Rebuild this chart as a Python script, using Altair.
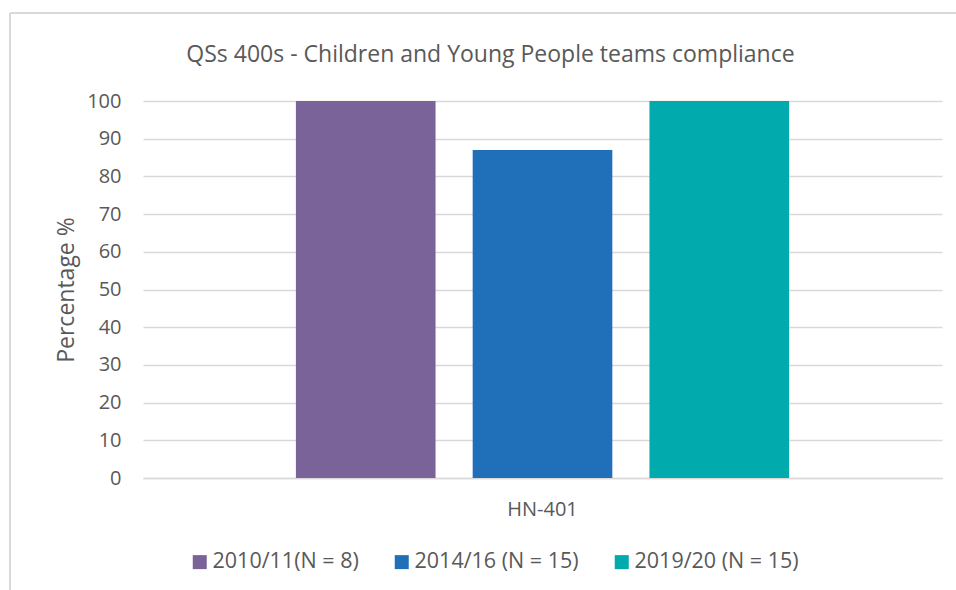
import altair as alt
import pandas as pd

categories = ["HN-401", "HN-401", "HN-401"]
series = ["2010/11(N = 8)", "2014/16 (N = 15)", "2019/20 (N = 15)"]
values = [100, 87, 100]
colors = ["#7a6399", "#1f70b8", "#00aaad"]

df = pd.DataFrame({"cat": categories, "series": series, "value": values})

FONT = "Open Sans"
GREY = "#595959"

bars = alt.Chart(df).mark_bar().encode(
    x=alt.X("cat:N", title=None,
            scale=alt.Scale(paddingOuter=0.31, paddingInner=0),
            axis=alt.Axis(labelAngle=0, ticks=False, labelPadding=21, labelFontSize=20,
                          labelColor=GREY, labelFont=FONT, domainColor="#d9d9d9",
                          domainWidth=1.5, grid=False)),
    xOffset=alt.XOffset("series:N", sort=series,
                        scale=alt.Scale(paddingInner=0.21, paddingOuter=0)),
    y=alt.Y("value:Q", title="Percentage %",
            scale=alt.Scale(domain=[0, 100], nice=False),
            axis=alt.Axis(values=list(range(0, 101, 10)), ticks=False, domain=False,
                          labelPadding=22, labelFontSize=20, labelColor=GREY, labelFont=FONT,
                          titleFontSize=23, titleFontWeight="normal", titleColor=GREY,
                          titleFont=FONT, titlePadding=8, gridColor="#d9d9d9", gridWidth=1.5)),
    color=alt.Color("series:N", sort=series,
                    scale=alt.Scale(domain=series, range=colors),
                    legend=alt.Legend(title=None, orient="none", direction="horizontal",
                                      legendX=46, legendY=450, symbolType="square",
                                      symbolSize=196, symbolStrokeWidth=0, labelFontSize=21.5,
                                      labelColor=GREY, labelFont=FONT, columnPadding=32,
                                      labelOffset=2, labelLimit=400)),
)

border = alt.Chart(df).mark_rule(color="#d9d9d9", strokeWidth=1.5, clip=False).encode(
    x=alt.value(-133), x2=alt.value(830), y=alt.value(-88)
)
border_left = alt.Chart(df).mark_rule(color="#d9d9d9", strokeWidth=1.5, clip=False).encode(
    x=alt.value(-133), y=alt.value(-88), y2=alt.value(600)
)

chart = alt.layer(border, border_left, bars).properties(
    width=799, height=377,
    background="white",
    title=alt.TitleParams("QSs 400s - Children and Young People teams compliance",
                          fontSize=23, font=FONT, fontWeight="normal", color=GREY,
                          anchor="middle", dx=-52, offset=-55),
    padding={"left": 143, "top": 101, "right": 14, "bottom": 112},
    autosize=alt.AutoSizeParams(type="none"),
).configure_view(strokeWidth=0)

chart.save("out.html", embed_options={"renderer": "svg", "actions": False})
